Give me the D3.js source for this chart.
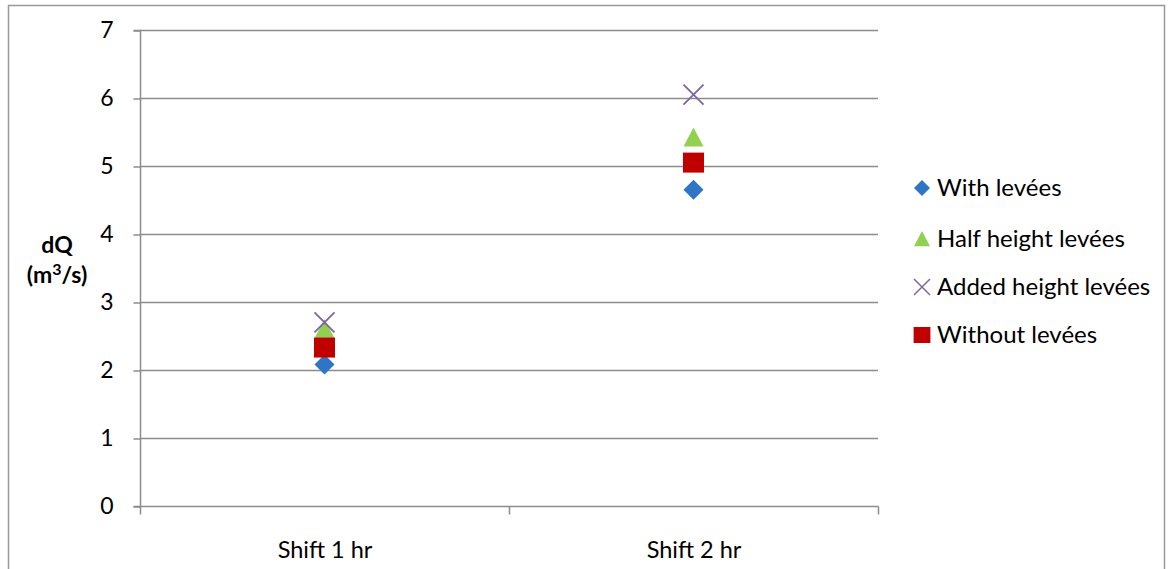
<!DOCTYPE html>
<html><head><meta charset="utf-8">
<script src="https://cdn.jsdelivr.net/npm/d3@7"></script>
<style>body{margin:0;background:#fff}svg{display:block}text{font-family:Lato,"Open Sans",sans-serif}</style>
</head><body><svg id="c" width="1168" height="569"></svg>
<script>
const categories = ["Shift 1 hr", "Shift 2 hr"];
const seriesNames = ["With levées", "Half height levées", "Added height levées", "Without levées"];
const withLevees = [2.08, 4.65];
const halfHeight = [2.6, 5.42];
const addedHeight = [2.7, 6.05];
const withoutLevees = [2.33, 5.05];
const yTicks = [0, 1, 2, 3, 4, 5, 6, 7];

const series = [
  {name: seriesNames[0], values: withLevees, shape: "diamond", color: "#2e75c6"},
  {name: seriesNames[1], values: halfHeight, shape: "triangle", color: "#92d050"},
  {name: seriesNames[2], values: addedHeight, shape: "x", color: "#8064a2"},
  {name: seriesNames[3], values: withoutLevees, shape: "square", color: "#c00000"}
];

const svg = d3.select("#c");
svg.append("rect").attr("x", 8.5).attr("y", 5.5).attr("width", 1156).attr("height", 580)
  .attr("fill", "none").attr("stroke", "#999").attr("stroke-width", 1.5);

const L = 140, R = 878, T = 30, B = 506;
const x = d3.scaleBand().domain(categories).range([L, R]);
const y = d3.scaleLinear().domain([0, 7]).range([B, T]);

// gridlines
svg.append("g").selectAll("line").data(yTicks.filter(d => d > 0)).join("line")
  .attr("x1", L).attr("x2", R).attr("y1", d => y(d) + 0.5).attr("y2", d => y(d) + 0.5)
  .attr("stroke", "#8c8c8c").attr("stroke-width", 1.5);

// y axis
const ya = svg.append("g").attr("transform", `translate(${L + 0.5},0.5)`)
  .call(d3.axisLeft(y).tickValues(yTicks).tickSize(7).tickPadding(20).tickFormat(d3.format("d")));
ya.select(".domain").attr("stroke", "#8c8c8c").attr("stroke-width", 1.5).attr("d", `M-7,${T}H0V${B}H-7`);
ya.selectAll(".tick line").attr("stroke", "#8c8c8c").attr("stroke-width", 1.5);
ya.selectAll(".tick text").attr("font-size", 23).attr("fill", "#000").attr("font-family", "Lato");

// x axis
const xa = svg.append("g").attr("transform", `translate(0.5,${B + 0.5})`)
  .call(d3.axisBottom(x).tickSize(0).tickPadding(35));
xa.select(".domain").attr("stroke", "#8c8c8c").attr("stroke-width", 1.5).attr("d", `M${L},0H${R}`);
xa.selectAll(".tick text").attr("font-size", 23.5).attr("fill", "#000").attr("font-family", "Lato");
const bounds = [L, L + x.step(), R];
xa.selectAll(".bt").data(bounds).join("line").attr("class", "bt")
  .attr("x1", d => d).attr("x2", d => d).attr("y1", 0).attr("y2", 8)
  .attr("stroke", "#8c8c8c").attr("stroke-width", 1.5);

// y label
const yl = svg.append("text").attr("text-anchor", "middle").attr("font-weight", "bold").attr("font-size", 23);
yl.append("tspan").attr("x", 57).attr("y", 253).text("dQ");
const yl2 = svg.append("text").attr("text-anchor", "middle").attr("font-weight", "bold").attr("font-size", 23)
  .attr("x", 57).attr("y", 283);
yl2.append("tspan").text("(m");
yl2.append("tspan").attr("font-size", 16).attr("dy", -8).text("3");
yl2.append("tspan").attr("dy", 8).text("/s)");

function marker(g, shape, color) {
  if (shape === "diamond") g.append("path").attr("d", "M0,-10L10,0L0,10L-10,0Z").attr("fill", color);
  else if (shape === "triangle") g.append("path").attr("d", "M0,-10L10,9L-10,9Z").attr("fill", color);
  else if (shape === "square") g.append("rect").attr("x", -10.5).attr("y", -10).attr("width", 21).attr("height", 20).attr("fill", color);
  else g.append("path").attr("d", "M-10,-10L10,10M-10,10L10,-10").attr("stroke", color).attr("stroke-width", 1.8).attr("fill", "none");
}

const order = [0, 1, 3, 2];
order.forEach(i => {
  const s = series[i];
  s.values.forEach((v, j) => {
    const g = svg.append("g").attr("transform", `translate(${x(categories[j]) + x.bandwidth() / 2},${y(v)})`);
    marker(g, s.shape, s.color);
  });
});

// legend
const ly = [188, 239, 287, 335];
series.forEach((s, i) => {
  const g = svg.append("g").attr("transform", `translate(922,${ly[i]})`);
  const m = g.append("g").attr("transform", "scale(0.8)");
  marker(m, s.shape, s.color);
  g.append("text").attr("x", 15).attr("y", 8).attr("font-size", 24).attr("fill", "#000").text(s.name);
});
</script></body></html>
